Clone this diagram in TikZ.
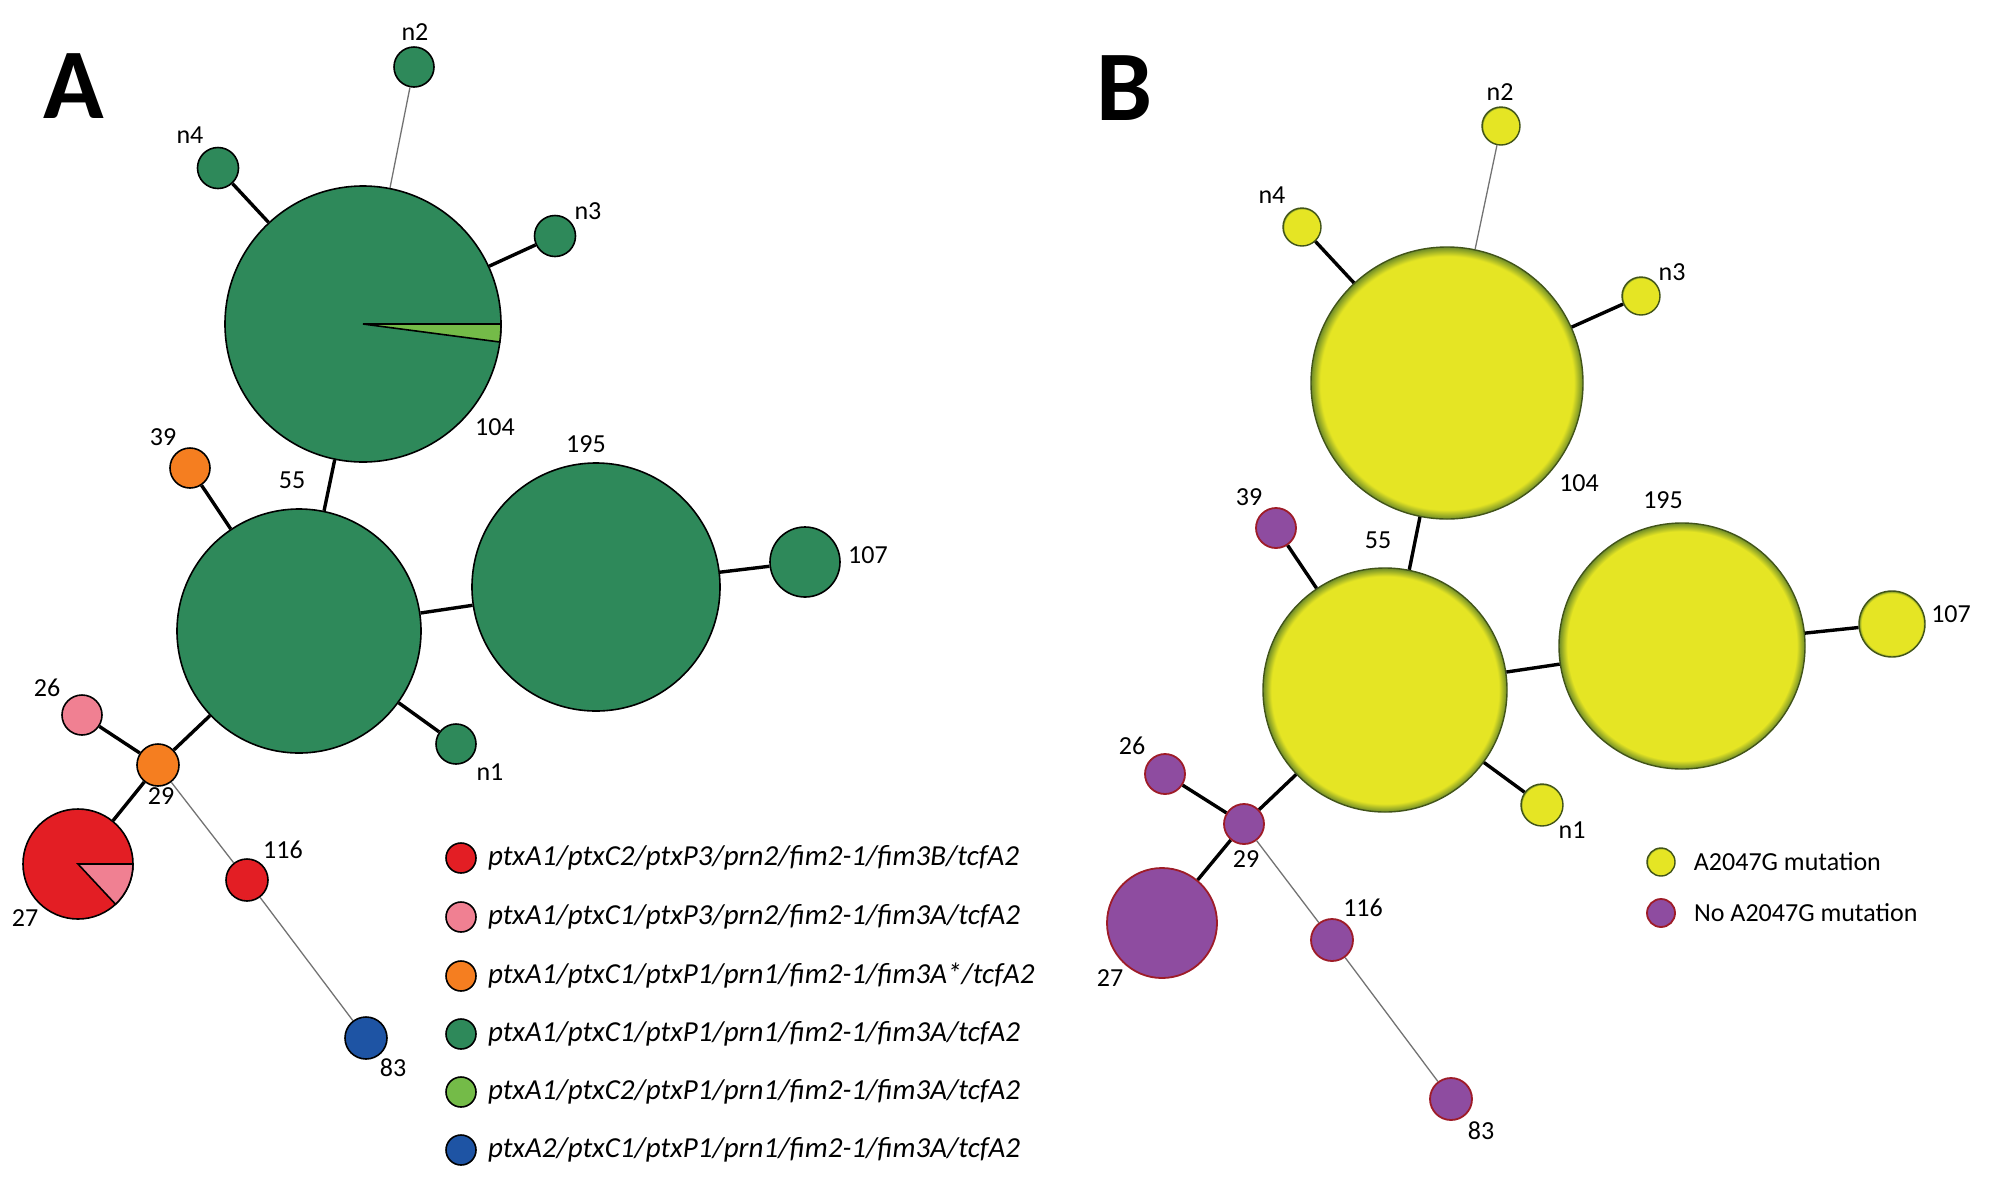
\documentclass[tikz,border=0pt]{standalone}
\usepackage{fontspec}
\setmainfont{Carlito}
\usetikzlibrary{positioning}
\definecolor{stgreen}{RGB}{46,137,90}
\definecolor{ltgreen}{RGB}{116,187,72}
\definecolor{stred}{RGB}{227,30,36}
\definecolor{stpink}{RGB}{240,128,146}
\definecolor{storange}{RGB}{245,126,32}
\definecolor{stblue}{RGB}{30,84,164}
\definecolor{ylwfill}{RGB}{229,229,36}
\definecolor{ylwrim}{RGB}{110,140,40}
\definecolor{prpfill}{RGB}{142,76,160}
\definecolor{prprim}{RGB}{158,28,40}
\pgfdeclareradialshading{ylwball}{\pgfpoint{0bp}{0bp}}{color(0bp)=(ylwfill); color(23.3bp)=(ylwfill); color(25bp)=(ylwrim); color(50bp)=(ylwrim)}

\begin{document}
\begin{tikzpicture}[
    x=1pt, y=-1pt,
    st/.style={circle, draw=black, line width=1.6pt, inner sep=0pt, minimum size=#1},
    ylw/.style={circle, draw=ylwrim!60!black, line width=1.4pt, inner sep=0pt, shade, shading=ylwball, minimum size=#1},
    prp/.style={circle, draw=prprim, line width=1.8pt, fill=prpfill, inner sep=0pt, minimum size=#1},
    lbl/.style={font=\fontsize{26}{30}\selectfont, inner sep=0pt},
    panel/.style={font=\fontsize{100}{110}\selectfont\bfseries, inner sep=0pt},
    legtxt/.style={font=\fontsize{29}{34}\selectfont\itshape, inner sep=0pt, anchor=west},
    keytxt/.style={font=\fontsize{26}{30}\selectfont, inner sep=0pt, anchor=west},
    link/.style={line width=3.4pt},
    weak/.style={line width=1.3pt, draw=black!55}
]
    \useasboundingbox (0,0) rectangle (2010,1195);

    % panel A
    \node [panel] (pa) at (74,86) {A};

    \node [st=276, fill=stgreen] (a104) at (363,324) {};
    \draw [fill=ltgreen, line width=1.6pt] (a104.center) -- ++(0:138) arc [start angle=0, end angle=7.5, radius=138] -- cycle;
    \node [st=40, fill=stgreen] (an2) at (414,67) {};
    \node [st=41, fill=stgreen] (an4) at (218,168) {};
    \node [st=41, fill=stgreen] (an3) at (555,236) {};
    \node [st=244, fill=stgreen] (a55) at (299,631) {};
    \node [st=248, fill=stgreen] (a195) at (596,587) {};
    \node [st=70, fill=stgreen] (a107) at (805,562) {};
    \node [st=40, fill=stgreen] (an1) at (456,744) {};
    \node [st=40, fill=storange] (a39) at (190,468) {};
    \node [st=40, fill=stpink] (a26) at (82,715) {};
    \node [st=42, fill=storange] (a29) at (158,765) {};
    \node [st=110, fill=stred] (a27) at (78,864) {};
    \draw [fill=stpink, line width=1.6pt] (a27.center) -- ++(0:55) arc [start angle=0, end angle=47, radius=55] -- cycle;
    \node [st=42, fill=stred] (a116) at (247,880) {};
    \node [st=42, fill=stblue] (a83) at (366,1038) {};

    \draw [weak] (a104) -- (an2);
    \draw [link] (a104) -- (an4);
    \draw [link] (a104) -- (an3);
    \draw [link] (a104) -- (a55);
    \draw [link] (a55) -- (a39);
    \draw [link] (a55) -- (a195);
    \draw [link] (a195) -- (a107);
    \draw [link] (a55) -- (an1);
    \draw [link] (a55) -- (a29);
    \draw [link] (a29) -- (a26);
    \draw [link] (a29) -- (a27);
    \draw [weak] (a29) -- (a116);
    \draw [weak] (a116) -- (a83);

    \node [lbl] (lan2) at (415,32) {n2};
    \node [lbl] (lan4) at (190,135) {n4};
    \node [lbl] (lan3) at (588,211) {n3};
    \node [lbl] (la104) at (495,427) {104};
    \node [lbl] (la55) at (292,480) {55};
    \node [lbl] (la39) at (163,437) {39};
    \node [lbl] (la195) at (586,444) {195};
    \node [lbl] (la107) at (868,555) {107};
    \node [lbl] (lan1) at (490,772) {n1};
    \node [lbl] (la26) at (47,688) {26};
    \node [lbl] (la29) at (161,796) {29};
    \node [lbl] (la27) at (25,918) {27};
    \node [lbl] (la116) at (283,850) {116};
    \node [lbl] (la83) at (393,1068) {83};

    % legend A
    \node [st=30, fill=stred] (ka1) at (461,858) {};
    \node [st=30, fill=stpink] (ka2) at (461,917) {};
    \node [st=30, fill=storange] (ka3) at (461,976) {};
    \node [st=30, fill=stgreen] (ka4) at (461,1034) {};
    \node [st=30, fill=ltgreen] (ka5) at (461,1092) {};
    \node [st=30, fill=stblue] (ka6) at (461,1150) {};
    \node [legtxt, right=11pt of ka1] (ta1) {ptxA1/ptxC2/ptxP3/prn2/fim2-1/fim3B/tcfA2};
    \node [legtxt, right=11pt of ka2] (ta2) {ptxA1/ptxC1/ptxP3/prn2/fim2-1/fim3A/tcfA2};
    \node [legtxt, right=11pt of ka3] (ta3) {ptxA1/ptxC1/ptxP1/prn1/fim2-1/fim3A*/tcfA2};
    \node [legtxt, right=11pt of ka4] (ta4) {ptxA1/ptxC1/ptxP1/prn1/fim2-1/fim3A/tcfA2};
    \node [legtxt, right=11pt of ka5] (ta5) {ptxA1/ptxC2/ptxP1/prn1/fim2-1/fim3A/tcfA2};
    \node [legtxt, right=11pt of ka6] (ta6) {ptxA2/ptxC1/ptxP1/prn1/fim2-1/fim3A/tcfA2};

    % panel B
    \node [panel] (pb) at (1125,88) {B};

    \node [ylw=272] (b104) at (1447,383) {};
    \node [ylw=38] (bn2) at (1501,126) {};
    \node [ylw=38] (bn4) at (1302,227) {};
    \node [ylw=38] (bn3) at (1641,296) {};
    \node [ylw=244] (b55) at (1385,690) {};
    \node [ylw=246] (b195) at (1682,646) {};
    \node [ylw=66] (b107) at (1892,624) {};
    \node [ylw=42] (bn1) at (1542,805) {};
    \node [prp=40] (b39) at (1276,528) {};
    \node [prp=40] (b26) at (1165,774) {};
    \node [prp=40] (b29) at (1244,824) {};
    \node [prp=110] (b27) at (1162,923) {};
    \node [prp=42] (b116) at (1332,940) {};
    \node [prp=42] (b83) at (1451,1099) {};

    \draw [weak] (b104) -- (bn2);
    \draw [link] (b104) -- (bn4);
    \draw [link] (b104) -- (bn3);
    \draw [link] (b104) -- (b55);
    \draw [link] (b55) -- (b39);
    \draw [link] (b55) -- (b195);
    \draw [link] (b195) -- (b107);
    \draw [link] (b55) -- (bn1);
    \draw [link] (b55) -- (b29);
    \draw [link] (b29) -- (b26);
    \draw [link] (b29) -- (b27);
    \draw [weak] (b29) -- (b116);
    \draw [weak] (b116) -- (b83);

    \node [lbl] (lbn2) at (1500,92) {n2};
    \node [lbl] (lbn4) at (1272,195) {n4};
    \node [lbl] (lbn3) at (1672,272) {n3};
    \node [lbl] (lb104) at (1579,483) {104};
    \node [lbl] (lb55) at (1378,540) {55};
    \node [lbl] (lb39) at (1249,497) {39};
    \node [lbl] (lb195) at (1663,500) {195};
    \node [lbl] (lb107) at (1951,614) {107};
    \node [lbl] (lbn1) at (1572,830) {n1};
    \node [lbl] (lb26) at (1132,746) {26};
    \node [lbl] (lb29) at (1246,859) {29};
    \node [lbl] (lb27) at (1110,978) {27};
    \node [lbl] (lb116) at (1363,908) {116};
    \node [lbl] (lb83) at (1481,1131) {83};

    % legend B
    \node [ylw=28] (kb1) at (1661,862) {};
    \node [prp=28] (kb2) at (1661,913) {};
    \node [keytxt, right=18pt of kb1] (tb1) {A2047G mutation};
    \node [keytxt, right=18pt of kb2] (tb2) {No A2047G mutation};
\end{tikzpicture}
\end{document}
